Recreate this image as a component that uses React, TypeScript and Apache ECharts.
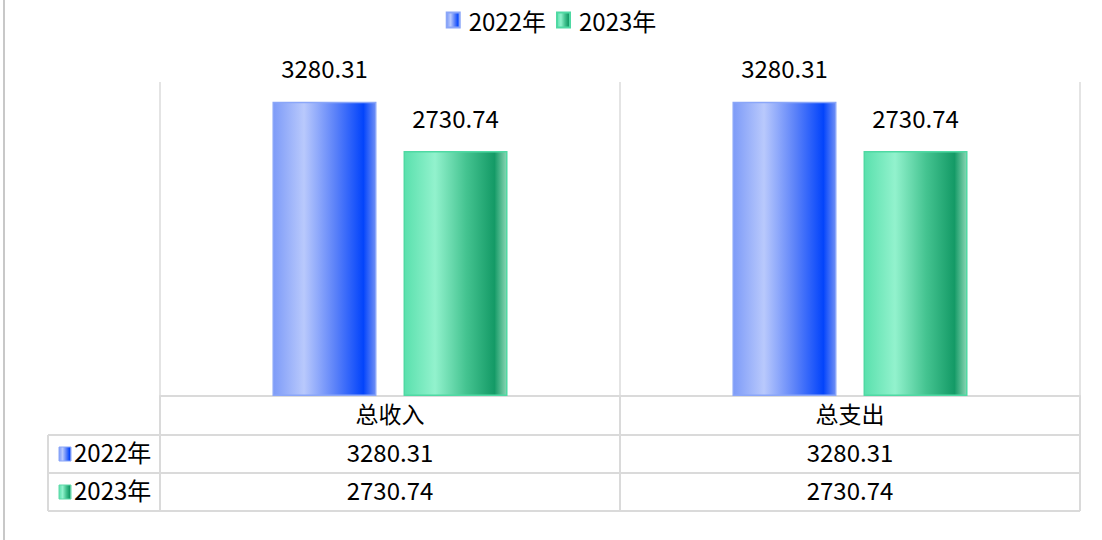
import React, { useEffect, useRef } from "react";
import * as echarts from "echarts";

const categories = ["总收入", "总支出"];
const seriesNames = ["2022年", "2023年"];
const values2022 = [3280.31, 3280.31];
const values2023 = [2730.74, 2730.74];
const yMax = 3500;

const FONT = '"Noto Sans CJK SC", "Noto Sans", sans-serif';
const FS = 24;

const blueGrad = () =>
  new echarts.graphic.LinearGradient(0, 0, 1, 0, [
    { offset: 0, color: "#7d9bf8" },
    { offset: 0.3, color: "#b9c9fc" },
    { offset: 0.6, color: "#5d83f9" },
    { offset: 0.88, color: "#0344fb" },
    { offset: 1, color: "#6f8ff5" },
  ]);
const greenGrad = () =>
  new echarts.graphic.LinearGradient(0, 0, 1, 0, [
    { offset: 0, color: "#5ae0ad" },
    { offset: 0.3, color: "#92f2cd" },
    { offset: 0.6, color: "#45c491" },
    { offset: 0.88, color: "#149a66" },
    { offset: 1, color: "#8ad6b4" },
  ]);

export default function App() {
  const ref = useRef<HTMLDivElement>(null);
  useEffect(() => {
    if (!ref.current) return;
    const chart = echarts.init(ref.current, undefined, { renderer: "svg" });

    const gridLeft = 160;
    const gridRight = 22;
    const gridTop = 82;
    const gridBottomY = 396;
    const tableLeft = 48;
    const plotRight = 1102 - gridRight;
    const catW = (plotRight - gridLeft) / categories.length;
    const rowTops = [396, 435, 473, 511];
    const lineColor = "#dadada";
    const rows = [values2022, values2023];
    const grads = [blueGrad, greenGrad];

    const graphics: any[] = [];
    graphics.push({
      type: "line",
      shape: { x1: 4, y1: 0, x2: 4, y2: 540 },
      style: { stroke: "#c8c8c8", lineWidth: 2 },
    });
    for (let r = 1; r < rowTops.length; r++) {
      graphics.push({
        type: "line",
        shape: { x1: tableLeft, y1: rowTops[r], x2: plotRight, y2: rowTops[r] },
        style: { stroke: lineColor, lineWidth: 2 },
      });
    }
    graphics.push({
      type: "line",
      shape: { x1: tableLeft, y1: rowTops[1], x2: tableLeft, y2: rowTops[3] },
      style: { stroke: lineColor, lineWidth: 2 },
    });
    for (let j = 0; j <= categories.length; j++) {
      const x = gridLeft + j * catW;
      graphics.push({
        type: "line",
        shape: { x1: x, y1: rowTops[0], x2: x, y2: rowTops[3] },
        style: { stroke: lineColor, lineWidth: 2 },
      });
    }
    rows.forEach((vals, i) => {
      const cy = (rowTops[i + 1] + rowTops[i + 2]) / 2;
      graphics.push({
        type: "rect",
        shape: { x: 59, y: cy - 7, width: 12, height: 14 },
        style: { fill: grads[i](), stroke: i === 0 ? "#8aa6f8" : "#5fd9a8", lineWidth: 1 },
      });
      graphics.push({
        type: "text",
        x: 74,
        y: cy - 3,
        style: {
          text: seriesNames[i],
          fontSize: FS,
          fontFamily: FONT,
          fill: "#000",
          align: "left",
          verticalAlign: "middle",
        },
      });
      vals.forEach((v, j) => {
        graphics.push({
          type: "text",
          x: gridLeft + (j + 0.5) * catW,
          y: cy - 3,
          style: {
            text: v.toFixed(2),
            fontSize: FS,
            fontFamily: FONT,
            fill: "#000",
            align: "center",
            verticalAlign: "middle",
          },
        });
      });
    });

    const labelCfg = {
      show: true,
      position: "top",
      distance: 22,
      fontSize: FS,
      color: "#000",
      fontFamily: FONT,
      formatter: (p: any) => p.value.toFixed(2),
    };

    chart.setOption({
      animation: false,
      backgroundColor: "#fff",
      textStyle: { fontFamily: FONT },
      legend: {
        top: 3,
        left: "center",
        icon: "rect",
        itemWidth: 13,
        itemHeight: 15,
        itemGap: 10,
        textStyle: { fontSize: FS, color: "#000", fontFamily: FONT, padding: [0, 0, 0, 4] },
        data: seriesNames,
      },
      grid: {
        left: gridLeft,
        right: gridRight,
        top: gridTop,
        bottom: 540 - gridBottomY,
        containLabel: false,
      },
      xAxis: {
        type: "category",
        data: categories,
        axisLine: { show: true, lineStyle: { color: lineColor, width: 2 } },
        axisTick: { show: false },
        splitLine: { show: true, lineStyle: { color: "#e4e4e4", width: 2 } },
        axisLabel: { fontSize: 23, color: "#000", margin: 5, fontFamily: FONT },
      },
      yAxis: {
        type: "value",
        min: 0,
        max: yMax,
        show: false,
        splitLine: { show: false },
      },
      series: [
        {
          name: seriesNames[0],
          type: "bar",
          data: values2022,
          barWidth: 104,
          barGap: "26%",
          itemStyle: { color: blueGrad(), borderColor: "#8aa6f8", borderWidth: 1.5 },
          label: labelCfg,
        },
        {
          name: seriesNames[1],
          type: "bar",
          data: values2023,
          barWidth: 104,
          itemStyle: { color: greenGrad(), borderColor: "#4fd9a3", borderWidth: 1.5 },
          label: labelCfg,
        },
      ],
      graphic: graphics,
    });
    return () => chart.dispose();
  }, []);
  return (
    <div
      ref={ref}
      style={{ position: "absolute", left: 0, top: 0, width: 1102, height: 540 }}
    />
  );
}
